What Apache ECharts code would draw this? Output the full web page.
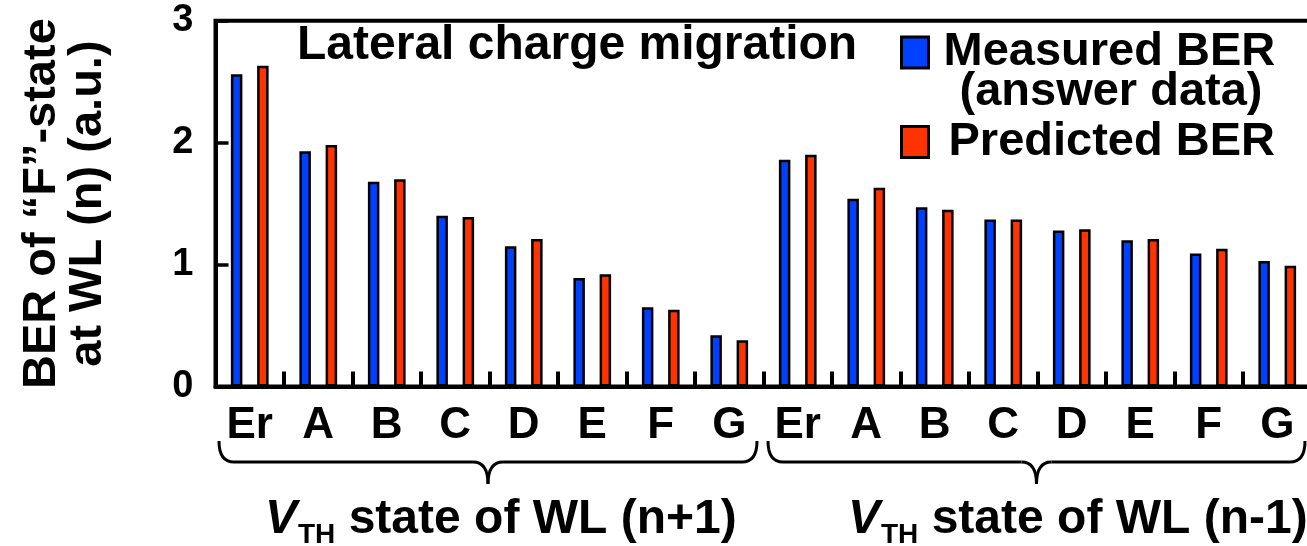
<!DOCTYPE html>
<html>
<head>
<meta charset="utf-8">
<script src="https://cdn.jsdelivr.net/npm/echarts@6/dist/echarts.min.js"></script>
<style>
html,body{margin:0;padding:0;background:#fff;}
#c{width:1307px;height:546px;}
</style>
</head>
<body>
<div id="c"></div>
<script>
// ---- data ----
const categories = ['Er','A','B','C','D','E','F','G','Er','A','B','C','D','E','F','G'];
const measuredBER  = [2.56,1.93,1.68,1.40,1.15,0.89,0.65,0.42, 1.86,1.54,1.47,1.37,1.28,1.20,1.09,1.03];
const predictedBER = [2.63,1.98,1.70,1.39,1.21,0.92,0.63,0.38, 1.90,1.63,1.45,1.37,1.29,1.21,1.13,0.99];
const seriesNames = ['Measured BER', 'Predicted BER'];
const legendNote = '(answer data)';
const chartTitle = 'Lateral charge migration';
const groupSuffix = [' state of WL (n+1)', ' state of WL (n-1)'];
const groupSize = 8;
const yAxisTitle = 'BER of \u201CF\u201D-state\nat WL (n) (a.u.)';

const FF = '"Liberation Sans", Arial, sans-serif';
const BLUE = '#0040ff', RED = '#ff3300';

const chart = echarts.init(document.getElementById('c'), null, {renderer: 'canvas'});

const option = {
  animation: false,
  backgroundColor: '#fff',
  grid: {left: 215.5, right: -4.5, top: 20.7, bottom: 159.5, show: true, containLabel: false,
         outerBoundsMode: 'none',
         borderColor: '#000', borderWidth: 4, backgroundColor: 'transparent'},
  xAxis: {
    type: 'category', data: categories,
    axisLine: {lineStyle: {color: '#000', width: 4}},
    axisTick: {show: true, inside: true, length: 15, interval: 0, lineStyle: {color: '#000', width: 4}},
    axisLabel: {interval: 0, margin: 17, color: '#000', fontSize: 44, fontWeight: 'bold', fontFamily: FF},
    splitLine: {show: false}
  },
  yAxis: {
    type: 'value', min: 0, max: 3, interval: 1,
    axisLine: {show: true, lineStyle: {color: '#000', width: 4}},
    axisTick: {show: true, inside: true, length: 13, lineStyle: {color: '#000', width: 3.5}},
    axisLabel: {margin: 22, color: '#000', fontSize: 38, fontWeight: 'bold', fontFamily: FF, padding: [8,0,0,0]},
    splitLine: {show: false},
    name: yAxisTitle, nameLocation: 'middle', nameRotate: 90, nameGap: 104,
    nameTextStyle: {color: '#000', fontSize: 47, fontWeight: 'bold', fontFamily: FF, lineHeight: 46, align: 'center'}
  },
  legend: [
    {data: [seriesNames[0]], left: 900, top: 29, padding: 0, orient: 'vertical', selectedMode: false,
     itemWidth: 27, itemHeight: 31, icon: 'rect',
     itemStyle: {borderColor: '#000', borderWidth: 3},
     textStyle: {color: '#000', fontSize: 47, fontWeight: 'bold', fontFamily: FF, lineHeight: 40, padding: [4,0,0,10]}},
    {data: [seriesNames[1]], left: 900, top: 118, padding: 0, orient: 'vertical', selectedMode: false,
     itemWidth: 27, itemHeight: 31, icon: 'rect',
     itemStyle: {borderColor: '#000', borderWidth: 3},
     textStyle: {color: '#000', fontSize: 47, fontWeight: 'bold', fontFamily: FF, lineHeight: 40, padding: [8,0,0,15]}}
  ],
  series: [
    {name: seriesNames[0], type: 'bar', data: measuredBER, barWidth: 11.5, barGap: '128%',
     itemStyle: {color: BLUE, borderColor: '#000', borderWidth: 2.5}},
    {name: seriesNames[1], type: 'bar', data: predictedBER, barWidth: 11.5,
     itemStyle: {color: RED, borderColor: '#000', borderWidth: 2.5}}
  ]
};
chart.setOption(option);

// ---- annotations (title, legend note, braces, group labels) ----
const mctx = document.createElement('canvas').getContext('2d');
function tw(font, s){ mctx.font = font; return mctx.measureText(s).width; }

const x0 = chart.convertToPixel({xAxisIndex: 0}, 0);
const x1 = chart.convertToPixel({xAxisIndex: 0}, 1);
const band = x1 - x0;
function boundary(i){ return x0 - band/2 + i*band; }

const graphics = [];
graphics.push({type: 'text', x: 297, y: 46, style: {text: chartTitle, fill: '#000',
  font: 'bold 48px ' + FF, textVerticalAlign: 'middle'}});
graphics.push({type: 'text', x: 1111, y: 92, style: {text: legendNote, fill: '#000',
  font: 'bold 47px ' + FF, textAlign: 'center', textVerticalAlign: 'middle'}});

const braceStyle = {fill: null, stroke: '#000', lineWidth: 3};
function addBrace(a, b, yTop, yLine, yTip, r){
  const m = (a + b) / 2;
  const q = (sx, sy, cx, cy, ex, ey) => graphics.push({type: 'bezierCurve',
    shape: {x1: sx, y1: sy, cpx1: cx, cpy1: cy, x2: ex, y2: ey}, style: braceStyle});
  const l = (sx, sy, ex, ey) => graphics.push({type: 'line',
    shape: {x1: sx, y1: sy, x2: ex, y2: ey}, style: braceStyle});
  q(a, yTop, a, yLine, a + r, yLine);
  l(a + r, yLine, m - r, yLine);
  q(m - r, yLine, m, yLine, m, yTip);
  q(m, yTip, m, yLine, m + r, yLine);
  l(m + r, yLine, b - r, yLine);
  q(b - r, yLine, b, yLine, b, yTop);
}
const labelLeft = [265, 848];
for (let g = 0; g < 2; g++){
  const a = boundary(g*groupSize) + (g === 0 ? 3.5 : 4.5);
  const b = boundary((g+1)*groupSize) - 6.5;
  addBrace(a, b, 441, 462, 484, 15);
  const fV = 'italic bold 48px ' + FF, fS = 'bold 28px ' + FF, fM = 'bold 48px ' + FF;
  let x = labelLeft[g];
  graphics.push({type: 'text', x: x, y: 520, style: {text: 'V', font: fV, fill: '#000', textVerticalAlign: 'middle'}});
  x += tw(fV, 'V') + 1;
  graphics.push({type: 'text', x: x, y: 535, style: {text: 'TH', font: fS, fill: '#000', textVerticalAlign: 'middle'}});
  x += tw(fS, 'TH');
  graphics.push({type: 'text', x: x, y: 520, style: {text: groupSuffix[g], font: fM, fill: '#000', textVerticalAlign: 'middle'}});
}
chart.setOption({graphic: graphics});
</script>
</body>
</html>
